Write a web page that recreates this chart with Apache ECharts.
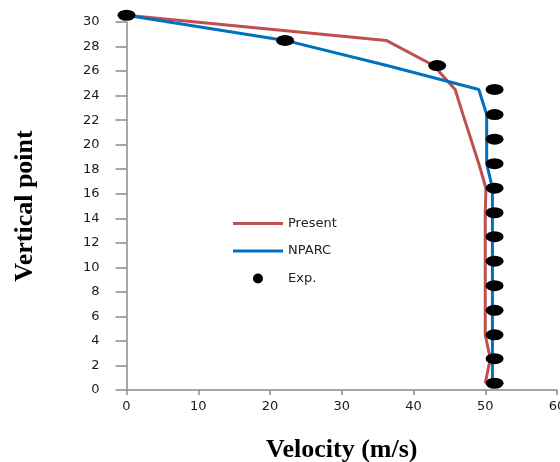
<!DOCTYPE html>
<html>
<head>
<meta charset="utf-8">
<script src="https://cdn.jsdelivr.net/npm/echarts@6/dist/echarts.min.js"></script>
<style>
html,body{margin:0;padding:0;background:#fff;}
#chart{width:560px;height:462px;}
</style>
</head>
<body>
<div id="chart"></div>
<script>
// Vertical point levels (y) shared by all series, top to bottom
const levels = [30.55, 28.5, 26.45, 24.5, 22.45, 20.45, 18.45, 16.45, 14.45, 12.5, 10.5, 8.5, 6.5, 4.5, 2.55, 0.55];
// Velocity (m/s) at each level
const presentVel = [0, 36.2, 42.8, 45.8, 46.9, 48.0, 49.1, 50.1, 50.0, 50.0, 50.0, 50.0, 50.0, 50.0, 50.7, 50.0];
const nparcVel   = [0, 22.1, 36.3, 49.1, 50.2, 50.2, 50.2, 51.0, 51.0, 51.0, 51.0, 51.0, 51.0, 51.0, 51.0, 51.0];
const expVel     = [0, 22.1, 43.3, 51.3, 51.3, 51.3, 51.3, 51.3, 51.3, 51.3, 51.3, 51.3, 51.3, 51.3, 51.3, 51.3];
const seriesNames = ['Present', 'NPARC', 'Exp.'];
const xTitle = 'Velocity (m/s)';
const yTitle = 'Vertical point';

const pairs = (xs) => xs.map((v, i) => [v, levels[i]]);

const chart = echarts.init(document.getElementById('chart'), null, {renderer: 'canvas'});
const tickFont = {fontFamily: 'DejaVu Sans', fontSize: 13, color: '#1a1a1a'};
const titleFont = {fontFamily: 'Liberation Serif', fontWeight: 'bold', fontSize: 26, color: '#000'};
const lineIcon = 'path://M0,0L50,0L50,3L0,3Z';

chart.setOption({
  animation: false,
  backgroundColor: '#fff',
  grid: {left: 126.5, right: 3, top: 22, bottom: 72, containLabel: false, outerBoundsMode: 'none'},
  legend: {
    orient: 'vertical',
    left: 233,
    top: 217,
    padding: 0,
    itemWidth: 50,
    itemHeight: 10,
    itemGap: 14.5,
    textStyle: {fontFamily: 'DejaVu Sans', fontSize: 13, color: '#222'},
    data: [
      {name: seriesNames[0], icon: lineIcon},
      {name: seriesNames[1], icon: lineIcon},
      {name: seriesNames[2], icon: 'circle'}
    ]
  },
  xAxis: {
    type: 'value',
    min: 0, max: 60, interval: 10,
    name: xTitle,
    nameLocation: 'middle',
    nameGap: 47,
    nameTextStyle: titleFont,
    axisLine: {show: true, lineStyle: {color: '#8a8a8a', width: 1.5}},
    axisTick: {show: true, length: 5, lineStyle: {color: '#8a8a8a', width: 1.5}},
    axisLabel: Object.assign({margin: 10}, tickFont),
    splitLine: {show: false}
  },
  yAxis: {
    type: 'value',
    min: 0, max: 30, interval: 2,
    name: yTitle,
    nameLocation: 'middle',
    nameGap: 88,
    nameRotate: 90,
    nameTextStyle: titleFont,
    axisLine: {show: true, lineStyle: {color: '#8a8a8a', width: 1.5}},
    axisTick: {show: true, length: 11, lineStyle: {color: '#8a8a8a', width: 1.5}},
    axisLabel: Object.assign({margin: 27}, tickFont),
    splitLine: {show: false}
  },
  series: [
    {
      name: seriesNames[0], type: 'line', data: pairs(presentVel),
      symbol: 'none', clip: false,
      lineStyle: {color: '#C0504D', width: 3},
      itemStyle: {color: '#C0504D'}, z: 2
    },
    {
      name: seriesNames[1], type: 'line', data: pairs(nparcVel),
      symbol: 'none', clip: false,
      lineStyle: {color: '#0070C0', width: 3},
      itemStyle: {color: '#0070C0'}, z: 3
    },
    {
      name: seriesNames[2], type: 'scatter', data: pairs(expVel),
      symbol: 'circle', symbolSize: [18, 11], clip: false,
      itemStyle: {color: '#000', opacity: 1}, z: 4
    }
  ]
});
</script>
</body>
</html>
